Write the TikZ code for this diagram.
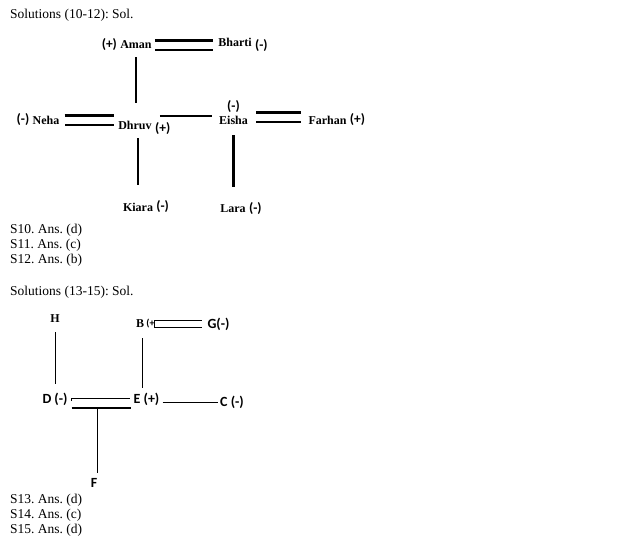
\documentclass[tikz,border=0pt]{standalone}
\usepackage{fontspec}
\setmainfont{Liberation Serif}
\newfontfamily\sgnfont{Carlito}
\usetikzlibrary{positioning}
\frenchspacing
\tikzset{
  pname/.style={font=\fontsize{12}{12}\selectfont\bfseries, inner sep=0pt},
  psign/.style={font=\fontsize{13.5}{13.5}\selectfont\sgnfont\bfseries, inner sep=0pt},
  pletter/.style={font=\fontsize{14}{14}\selectfont\sgnfont\bfseries, inner sep=0pt},
  psmall/.style={font=\fontsize{10}{10}\selectfont\sgnfont\bfseries, inner sep=0pt},
  ptext/.style={font=\fontsize{13.5}{15}\selectfont, inner sep=0pt, anchor=west, align=left},
  dbl/.style={double, double distance=7pt, line width=2.2pt},
  dblthin/.style={double, double distance=6pt, line width=1pt},
  thk/.style={line width=2.4pt},
  thn/.style={line width=1pt}
}
\begin{document}
\begin{tikzpicture}[x=1pt,y=-1pt,label distance=3pt]
\useasboundingbox (0,0) rectangle (620,554);
\node[ptext] (sol1) at (10,15) {Solutions (10-12): Sol.};
\node[pname, label={[psign]left:(+)}] (aman) at (136,45) {Aman};
\node[pname, label={[psign,yshift=-4pt]right:(-)}] (bharti) at (235,42) {Bharti};
\node[pname, label={[psign]left:(-)}] (neha) at (46,120) {Neha};
\node[pname, label={[psign,yshift=-4pt]right:(+)}] (dhruv) at (135,125) {Dhruv};
\node[pname, label={[psign,yshift=-0.5pt]above:(-)}] (eisha) at (233.5,120) {Eisha};
\node[pname, label={[psign]right:(+)}] (farhan) at (327.5,120) {Farhan};
\node[pname, label={[psign]right:(-)}] (kiara) at (138,207) {Kiara};
\node[pname, label={[psign]right:(-)}] (lara) at (233,209) {Lara};
\draw[dbl] ([xshift=3pt]aman.east) -- ([xshift=-5pt]bharti.west |- aman.east);
\draw[dbl] ([xshift=5pt]neha.east) -- ([xshift=-4pt]dhruv.west |- neha.east);
\draw[dbl] ([xshift=8pt,yshift=3pt]eisha.east) -- ([xshift=-7pt,yshift=3pt]farhan.west);
\draw[line width=2pt] ([xshift=8pt,yshift=9pt]dhruv.east) -- ([xshift=-7pt,yshift=4pt]eisha.west);
\draw[thk, shorten <=8pt, shorten >=18pt] (aman.south) -- (aman.south |- dhruv.north);
\draw[thk, shorten <=9pt, shorten >=18pt] (kiara.north |- dhruv.south) -- (kiara.north);
\draw[thk, shorten <=11pt, shorten >=18pt] (eisha.south) -- (eisha.south |- lara.north);
\node[ptext] (ans1) at (10,245) {S10. Ans. (d)\\S11. Ans. (c)\\S12. Ans. (b)};
\node[ptext] (sol2) at (10,292) {Solutions (13-15): Sol.};
\node[pname] (h) at (55,319) {H};
\node[pname] (b) at (140,324) {B};
\node[psmall, right=2pt of b] (bsgn) {(+};
\node[pletter] (g) at (218.5,324) {G(-)};
\node[pletter] (d) at (55,399) {D (-)};
\node[pletter] (e) at (146.5,399) {E (+)};
\node[pletter] (c) at (232,402) {C (-)};
\node[pletter] (f) at (94,483) {F};
\draw[dblthin] (bsgn.east) -- ([xshift=-5pt]g.west);
\draw[thn] ([yshift=4pt]bsgn.east) -- ([yshift=-4pt]bsgn.east);
\draw[thn, shorten <=9pt, shorten >=9pt] (h.south) -- (h.south |- d.north);
\draw[thn, shorten <=10pt, shorten >=5pt] ([xshift=2pt]b.south) -- ([xshift=2pt]b.south |- e.north);
\draw[thn] ([xshift=4pt,yshift=-2pt]d.east) -- ([xshift=4pt,yshift=1pt]d.east) -- ([xshift=-3pt,yshift=1pt]e.west);
\draw[line width=1.6pt] ([xshift=4pt,yshift=-9pt]d.east) -- ([xshift=-2pt,yshift=-9pt]e.west);
\draw[thn] ([xshift=3pt,yshift=-3pt]e.east) -- ([xshift=-2pt]c.west);
\coordinate (dfoot) at (97,408);
\draw[thn, shorten >=5pt] (dfoot) -- (dfoot |- f.north);
\node[ptext] (ans2) at (10,515) {S13. Ans. (d)\\S14. Ans. (c)\\S15. Ans. (d)};
\end{tikzpicture}
\end{document}
